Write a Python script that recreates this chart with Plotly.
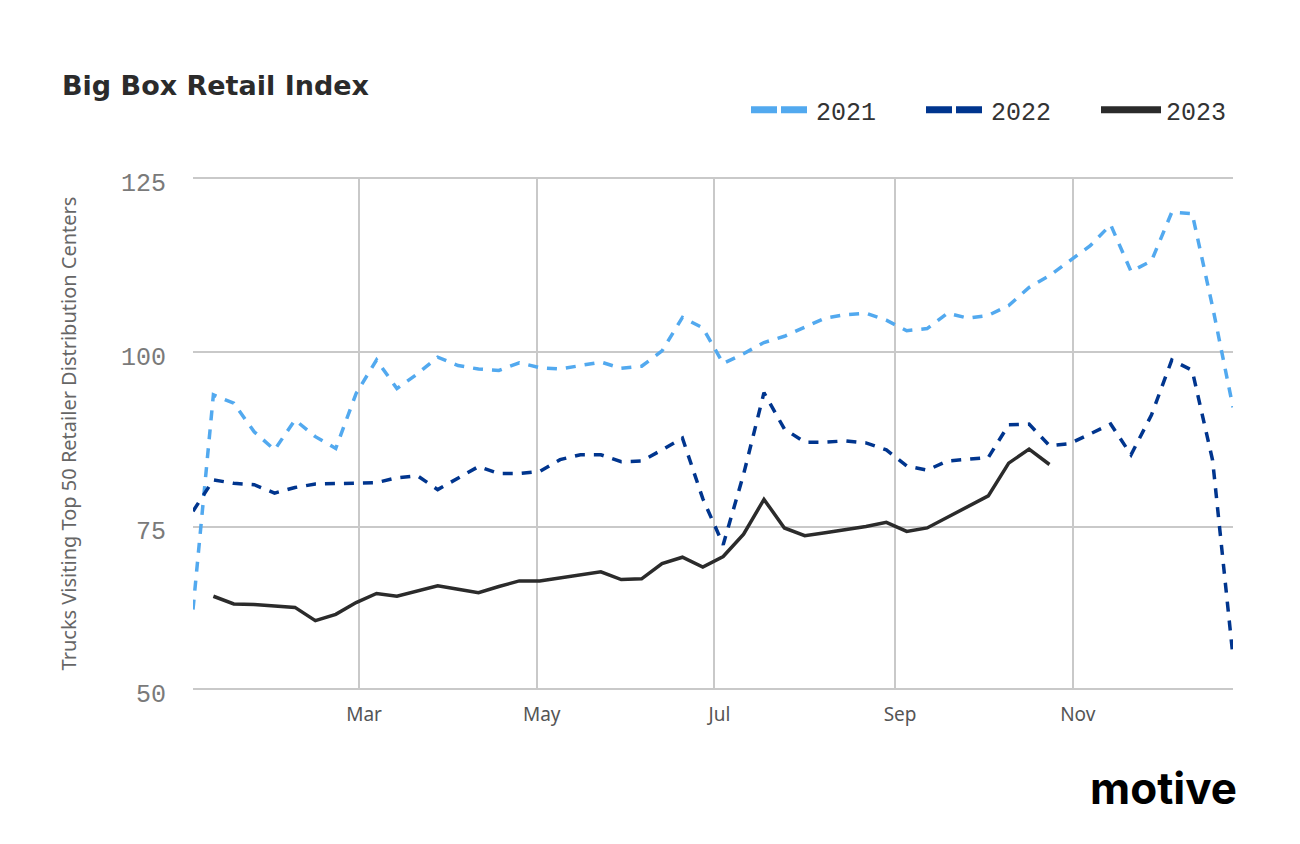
import datetime as dt
import plotly.graph_objects as go

# ---- data ----
week_start = dt.date(2023, 1, 3)
weeks = [week_start + dt.timedelta(days=7 * i) for i in range(52)]

series_names = ["2021", "2022", "2023"]
v2021 = [63.1, 93.9, 92.7, 88.6, 86.0, 90.3, 87.9, 86.2, 94.1, 98.9,
         94.8, 96.9, 99.3, 98.1, 97.6, 97.4, 98.5, 97.8, 97.6, 98.1,
         98.6, 97.7, 98.0, 100.2, 105.0, 103.5, 98.4, 99.8, 101.4, 102.3,
         103.6, 104.9, 105.4, 105.6, 104.6, 103.1, 103.4, 105.6, 104.9, 105.3,
         106.7, 109.3, 111.0, 113.1, 115.3, 118.3, 111.6, 113.1, 120.1, 119.9,
         106.5, 92.1]
v2022 = [77.2, 81.7, 81.2, 81.0, 79.8, 80.6, 81.1, 81.2, 81.2, 81.3,
         82.0, 82.3, 80.3, 82.0, 83.6, 82.6, 82.6, 82.9, 84.6, 85.3,
         85.3, 84.3, 84.4, 86.0, 87.7, 79.0, 72.4, 82.5, 94.2, 89.0,
         87.1, 87.1, 87.3, 87.0, 86.0, 83.7, 83.1, 84.4, 84.6, 84.9,
         89.6, 89.7, 86.6, 86.9, 88.3, 89.7, 85.3, 91.0, 98.9, 97.4,
         84.5, 56.3]
v2023 = [None, 65.0, 63.9, 63.8, 63.6, 63.4, 61.5, 62.4, 64.1, 65.4,
         65.0, 65.8, 66.5, 66.0, 65.5, 66.4, 67.2, 67.2, 67.6, 68.1,
         68.5, 67.4, 67.5, 69.7, 70.6, 69.2, 70.7, 73.9, 78.9, 74.8,
         73.7, 74.1, 74.5, 75.0, 75.6, 74.3, 74.8, 76.3, 77.9, 79.4,
         84.1, 86.1, 83.9]

y_tickvals = [51.7, 75, 100, 125]
y_ticktext = ["50", "75", "100", "125"]

colors = {"2021": "#52a9ef", "2022": "#00358e", "2023": "#2b2b2b"}
dashes = {"2021": "10px,9px", "2022": "10px,9px", "2023": "solid"}
legend_dashes = {"2021": "26px,4px", "2022": "26px,4px", "2023": "solid"}

fig = go.Figure()
for name, vals in zip(series_names, [v2021, v2022, v2023]):
    fig.add_trace(go.Scatter(
        x=weeks[:len(vals)], y=vals, mode="lines", name=name,
        line=dict(color=colors[name], width=3.5, dash=dashes[name]),
        showlegend=False, connectgaps=False,
    ))
# legend-only entries with heavier symbols
for name in series_names:
    fig.add_trace(go.Scatter(
        x=[weeks[0]], y=[None], mode="lines", name=name,
        line=dict(color=colors[name], width=7, dash=legend_dashes[name]),
        showlegend=True, hoverinfo="skip",
    ))

# the page body adds an 8px offset; margins compensate for it
fig.update_layout(
    width=1300, height=844,
    margin=dict(l=185, r=75, t=169, b=162),
    paper_bgcolor="white", plot_bgcolor="white",
    title=dict(text="Big Box Retail Index", x=54 / 1300, xanchor="left",
               y=1 - 78 / 844, yanchor="middle",
               font=dict(family="DejaVu Sans", size=27, color="#2b2b2b", weight=600)),
    legend=dict(orientation="h", x=(746 - 193) / 1040, xanchor="left",
                y=(690 - 110) / 513, yanchor="middle",
                font=dict(family="Liberation Mono", size=25, color="#333333"),
                itemwidth=60,
                entrywidth=100, entrywidthmode="pixels", traceorder="normal",
                bgcolor="rgba(0,0,0,0)"),
    showlegend=True,
)

fig.update_xaxes(
    type="date", range=["2023-01-03", "2023-12-26"],
    tick0="2023-03-01", dtick="M2", tickformat="%b",
    showgrid=True, gridcolor="#c9c9c9", gridwidth=2,
    zeroline=False, showline=False, ticks="",
    tickfont=dict(family="Noto Sans", size=19, color="#555555"),
    ticklabelstandoff=11, ticklabelshift=5,
)
fig.update_yaxes(
    range=[51.55, 125.15], tickmode="array",
    tickvals=y_tickvals, ticktext=y_ticktext,
    showgrid=True, gridcolor="#c9c9c9", gridwidth=2,
    zeroline=False, showline=False, ticks="",
    tickfont=dict(family="Liberation Mono", size=25, color="#7a7a7a"),
    ticklabelstandoff=26, ticklabelshift=4,
    title=dict(text="Trucks Visiting Top 50 Retailer Distribution Centers",
               font=dict(family="Noto Sans", size=20, color="#666666"),
               standoff=38),
)

fig.add_annotation(
    text="<b>motive</b>", xref="paper", yref="paper",
    x=(1239 - 193) / 1040, xanchor="right",
    y=(690 - 788) / 513, yanchor="middle", showarrow=False,
    font=dict(family="Inter", size=44, color="#000000", weight=800),
)

fig.write_html("out.html")
